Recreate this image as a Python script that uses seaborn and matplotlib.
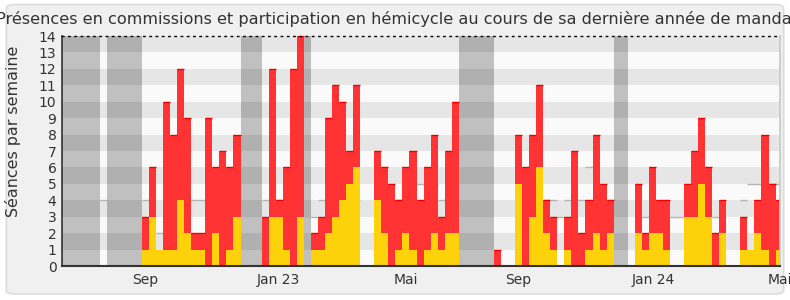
import numpy as np
import pandas as pd
import matplotlib
matplotlib.use("Agg")
import matplotlib.pyplot as plt
import seaborn as sns
from matplotlib.patches import FancyBboxPatch

# ---------------- data (weekly) ----------------
weeks = list(range(0, 91))
total = [3, 6, 1, 10, 8, 12, 9, 2, 2, 9, 6, 7, 6, 8,
         0, 0, 0,
         3, 12, 4, 6, 12, 14,
         0,
         2, 3, 9, 11, 10, 7, 11,
         0, 0,
         7, 6, 5, 4, 6, 7, 4, 6, 8, 3, 7, 10,
         0, 0, 0, 0, 0,
         1, 0, 0,
         8, 6, 8, 11, 4, 3, 0, 3, 7, 2, 4, 8, 5, 4,
         0, 0, 0,
         5, 2, 6, 4, 4,
         0, 0,
         5, 7, 9, 6, 2, 4,
         0, 0,
         3, 1, 4, 8, 5, 4]
hemicycle = [1, 3, 1, 1, 1, 4, 2, 1, 1, 0, 2, 0, 1, 3,
             0, 0, 0,
             0, 3, 3, 1, 0, 3,
             0,
             1, 1, 2, 3, 4, 5, 6,
             0, 0,
             4, 2, 0, 1, 2, 1, 0, 1, 2, 1, 2, 2,
             0, 0, 0, 0, 0,
             0, 0, 0,
             5, 0, 3, 6, 2, 1, 0, 1, 0, 0, 1, 2, 1, 2,
             0, 0, 0,
             2, 1, 2, 2, 1,
             0, 0,
             3, 3, 5, 3, 0, 2,
             0, 0,
             1, 1, 2, 1, 0, 1]
median_weeks = list(range(-6, 91))
median = [4, 0, 0, 0, 0, 0,
          4, 4, 2, 4, 4, 4, 4, 4, 4, 4, 4, 4, 4, 4,
          0, 0, 0,
          4, 4, 4, 4, 4, 4,
          3,
          3, 4, 4, 4, 4, 4, 4,
          0, 0,
          4, 4, 4, 4, 4, 5, 5, 5, 5, 4, 4, 4,
          0, 0, 0, 0, 0,
          0, 0, 0,
          4, 4, 4, 4, 4, 4, 3, 4, 4, 4, 6, 4, 4, 4,
          0, 0, 0,
          3, 3, 3, 3, 3,
          3, 3,
          3, 3, 3, 3, 3, 3,
          0, 0,
          4, 5, 5, 5, 5, 5]
vacations = [(-12, -6), (-5, 0), (14, 17), (23, 24), (45, 50), (67, 69)]
tick_labels = ["Sep", "Jan 23", "Mai", "Sep", "Jan 24", "Mai"]
tick_weeks = [0.43, 19.4, 37.5, 53.5, 72.6, 90.6]

title = ("Présences en commissions et participation en hémicycle "
         "au cours de sa dernière année de mandat")
ylabel = "Séances par semaine"

df = pd.DataFrame({"week": np.array(weeks) + 0.5,
                   "total": total, "hemicycle": hemicycle})

# ---------------- figure ----------------
sns.set_style("white")
plt.rcParams["font.family"] = ["DejaVu Sans"]
fig = plt.figure(figsize=(7.9, 3.0), dpi=100, facecolor="white")
fig.patches.append(FancyBboxPatch((0.008, 0.02), 0.984, 0.965,
                                  boxstyle="round,pad=0,rounding_size=0.012",
                                  transform=fig.transFigure, facecolor="#f0f0f0",
                                  edgecolor="#dcdcdc", linewidth=1.2, zorder=-10))
ax = fig.add_axes([62 / 790, 1 - 266 / 300, (780 - 62) / 790, (266 - 36) / 300])
ax.set_facecolor("#fafafa")

# stripes
for i in range(14):
    ax.axhspan(i, i + 1, color="#e6e6e6" if i % 2 else "#fafafa", lw=0, zorder=0)
# vacations
for a, b in vacations:
    ax.axvspan(a, b, color="black", alpha=0.23, lw=0, zorder=1)

# median line segments
mw = np.array(median_weeks)
mv = np.array(median)
m = mv > 0
ax.hlines(mv[m], mw[m], mw[m] + 1, color="#b4b4b4", lw=1.0, zorder=1.5)

sns.barplot(data=df, x="week", y="total", native_scale=True, width=1,
            color="#ff3333", saturation=1, linewidth=0, errorbar=None,
            ax=ax, zorder=2)
sns.barplot(data=df, x="week", y="hemicycle", native_scale=True, width=1,
            color="#fdd20a", saturation=1, linewidth=0, errorbar=None,
            ax=ax, zorder=3)
w = np.array(weeks)
t = np.array(total)
h = np.array(hemicycle)
sel = t > h
ax.hlines(t[sel], w[sel], w[sel] + 1, color="#f00000", lw=1.0, zorder=2.5)

ax.set_xlim(-11.36, 90.63)
ax.set_ylim(0, 14)
ax.set_yticks(range(0, 15))
ax.set_yticklabels([str(v) for v in range(0, 15)])
ax.set_xticks(tick_weeks)
ax.set_xticklabels(tick_labels)
ax.tick_params(axis="y", direction="in", length=3, width=1, colors="#333333",
               labelsize=10, pad=4)
ax.tick_params(axis="x", length=0, colors="#333333", labelsize=10, pad=5)
ax.set_xlabel("")
ax.set_ylabel("")

for s in ["left", "bottom", "right", "top"]:
    ax.spines[s].set_visible(True)
ax.spines["left"].set_color("#333333")
ax.spines["left"].set_linewidth(1.2)
ax.spines["bottom"].set_color("#333333")
ax.spines["bottom"].set_linewidth(1.5)
ax.spines["right"].set_color("#c8c8c8")
ax.spines["right"].set_linewidth(1.2)
ax.spines["top"].set_color("black")
ax.spines["top"].set_linestyle((0, (1, 3.5)))
ax.spines["top"].set_linewidth(1.0)
for sp in ax.spines.values():
    sp.set_zorder(5)

fig.text(0.503, 1 - 19 / 300, title, ha="center", va="center",
         fontsize=11.6, color="#333333")
fig.text(13 / 790, 1 - 131 / 300, ylabel, ha="center", va="center",
         rotation=90, fontsize=11.4, color="#333333")

fig.savefig("out.png", dpi=100, facecolor="white")
